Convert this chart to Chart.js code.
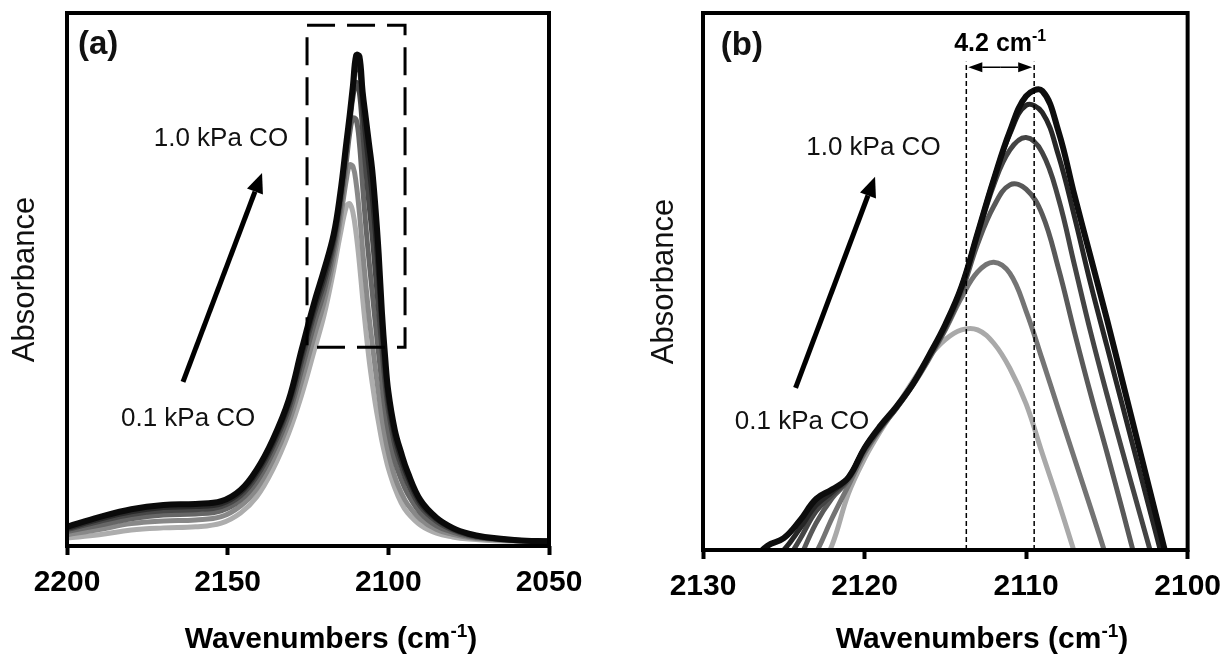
<!DOCTYPE html>
<html>
<head>
<meta charset="utf-8">
<title>CO band</title>
<script src="https://cdn.jsdelivr.net/npm/chart.js@4.4.1/dist/chart.umd.min.js"></script>
<style>
  html, body { margin: 0; padding: 0; background: #fff; }
  #wrap { position: relative; width: 1231px; height: 656px; overflow: hidden; }
  canvas { position: absolute; top: 0; }
  #wide { left: 0; }
  #zoom { left: 616px; }
</style>
</head>
<body>
<div id="wrap">
  <canvas id="wide" width="615" height="656"></canvas>
  <canvas id="zoom" width="615" height="656"></canvas>
</div>
<script>
const FONT = '"Liberation Sans", Arial, Helvetica, sans-serif';

// (a) whole band, spectra from 0.1 kPa (1) up to 1.0 kPa CO (6)
const wideWn = [2200, 2190, 2180, 2170, 2160, 2152, 2146, 2141, 2136, 2131,
  2127, 2123, 2120, 2117, 2115, 2113, 2112, 2111, 2110, 2109,
  2108, 2107, 2106, 2105, 2104, 2103, 2102, 2101, 2100, 2098,
  2096, 2094, 2090, 2085, 2080, 2075, 2070, 2060, 2050];
const wide1 = [0.015, 0.021, 0.030, 0.034, 0.036, 0.043, 0.062, 0.092, 0.143, 0.212,
  0.283, 0.368, 0.433, 0.518, 0.583, 0.638, 0.642, 0.625, 0.585, 0.530,
  0.465, 0.405, 0.350, 0.305, 0.265, 0.230, 0.197, 0.170, 0.146, 0.109,
  0.081, 0.062, 0.039, 0.024, 0.017, 0.013, 0.011, 0.009, 0.009];
const wide2 = [0.021, 0.031, 0.042, 0.047, 0.049, 0.055, 0.075, 0.107, 0.160, 0.231,
  0.309, 0.395, 0.457, 0.538, 0.610, 0.690, 0.715, 0.712, 0.680, 0.625,
  0.555, 0.490, 0.430, 0.380, 0.330, 0.285, 0.240, 0.205, 0.175, 0.130,
  0.100, 0.078, 0.050, 0.031, 0.022, 0.016, 0.013, 0.010, 0.009];
const wide3 = [0.027, 0.039, 0.051, 0.058, 0.060, 0.066, 0.086, 0.120, 0.174, 0.246,
  0.330, 0.418, 0.477, 0.555, 0.630, 0.725, 0.775, 0.803, 0.800, 0.755,
  0.675, 0.600, 0.535, 0.475, 0.415, 0.360, 0.305, 0.255, 0.215, 0.160,
  0.125, 0.098, 0.062, 0.038, 0.026, 0.018, 0.014, 0.010, 0.009];
const wide4 = [0.031, 0.046, 0.059, 0.066, 0.068, 0.074, 0.094, 0.130, 0.185, 0.258,
  0.347, 0.436, 0.493, 0.568, 0.645, 0.745, 0.795, 0.843, 0.870, 0.850,
  0.780, 0.705, 0.640, 0.580, 0.510, 0.440, 0.370, 0.305, 0.255, 0.190,
  0.150, 0.118, 0.074, 0.046, 0.030, 0.020, 0.015, 0.011, 0.009];
const wide5 = [0.033, 0.050, 0.064, 0.072, 0.074, 0.079, 0.100, 0.137, 0.192, 0.267,
  0.358, 0.447, 0.505, 0.577, 0.653, 0.755, 0.805, 0.857, 0.905, 0.895,
  0.825, 0.765, 0.710, 0.655, 0.585, 0.505, 0.410, 0.330, 0.272, 0.205,
  0.163, 0.130, 0.080, 0.050, 0.032, 0.022, 0.016, 0.011, 0.009];
const wide6 = [0.036, 0.054, 0.069, 0.077, 0.079, 0.084, 0.105, 0.143, 0.199, 0.274,
  0.368, 0.458, 0.518, 0.585, 0.660, 0.760, 0.810, 0.865, 0.921, 0.919,
  0.852, 0.803, 0.754, 0.705, 0.634, 0.548, 0.439, 0.355, 0.290, 0.218,
  0.175, 0.139, 0.086, 0.053, 0.034, 0.023, 0.017, 0.011, 0.009];
const wideTicks = [2200, 2150, 2100, 2050];

// (b) close-up of the main peak, same six spectra
const zoomWn = [2127, 2126, 2125, 2124, 2123, 2122, 2121, 2120, 2119, 2118,
  2117, 2116, 2115, 2114, 2113, 2112, 2111, 2110, 2109, 2108,
  2107, 2106, 2105, 2104, 2103, 2102, 2101, 2100];
const zoom1 = [null, null, null, null, -0.05, 0.010, 0.105, 0.170, 0.222, 0.268,
  0.315, 0.360, 0.392, 0.410, 0.410, 0.385, 0.338, 0.272, 0.180, 0.090,
  -0.005, null, null, null, null, null, null, null];
const zoom2 = [null, null, null, -0.05, -0.005, 0.060, 0.120, 0.180, 0.226, 0.265,
  0.307, 0.356, 0.410, 0.470, 0.518, 0.536, 0.515, 0.445, 0.355, 0.262,
  0.170, 0.078, -0.016, null, null, null, null, null];
const zoom3 = [null, null, null, -0.015, 0.050, 0.097, 0.130, 0.185, 0.227, 0.265,
  0.308, 0.358, 0.412, 0.480, 0.570, 0.640, 0.680, 0.672, 0.625, 0.525,
  0.405, 0.290, 0.182, 0.070, -0.045, null, null, null];
const zoom4 = [null, null, -0.03, 0.020, 0.072, 0.103, 0.133, 0.188, 0.229, 0.266,
  0.309, 0.360, 0.415, 0.485, 0.585, 0.680, 0.745, 0.768, 0.740, 0.655,
  0.530, 0.405, 0.290, 0.180, 0.072, -0.035, null, null];
const zoom5 = [null, -0.025, 0.000, 0.040, 0.083, 0.108, 0.135, 0.190, 0.230, 0.267,
  0.310, 0.362, 0.418, 0.490, 0.590, 0.690, 0.775, 0.828, 0.815, 0.735,
  0.620, 0.495, 0.380, 0.265, 0.150, 0.035, -0.08, null];
const zoom6 = [-0.02, 0.008, 0.022, 0.055, 0.095, 0.113, 0.135, 0.190, 0.232, 0.268,
  0.310, 0.363, 0.420, 0.490, 0.590, 0.690, 0.780, 0.845, 0.855, 0.780,
  0.660, 0.545, 0.430, 0.310, 0.190, 0.070, -0.05, null];
const zoomTicks = [2130, 2120, 2110, 2100];

// peak positions at 0.1 and 1.0 kPa marked in (b)
const shiftFrom = 2113.7;
const shiftSize = 4.2;
const shiftTo = shiftFrom - shiftSize;

// darkest (highest pressure) first so it ends up drawn on top
const wideShades = ['#0a0a0a', '#2a2a2a', '#474747', '#666666', '#888888', '#adadad'];
const zoomShades = ['#0d0d0d', '#262626', '#444444', '#595959', '#747474', '#a9a9a9'];

function pointsOf(xs, ys) {
  return xs.map((x, i) => ({ x, y: ys[i] }));
}

function drawArrow(ctx, x1, y1, x2, y2, width, headLen, headW) {
  const a = Math.atan2(y2 - y1, x2 - x1);
  const bx = x2 - headLen * Math.cos(a);
  const by = y2 - headLen * Math.sin(a);
  ctx.lineWidth = width;
  ctx.beginPath();
  ctx.moveTo(x1, y1);
  ctx.lineTo(bx, by);
  ctx.stroke();
  ctx.beginPath();
  ctx.moveTo(x2, y2);
  ctx.lineTo(bx + headW / 2 * Math.sin(a), by - headW / 2 * Math.cos(a));
  ctx.lineTo(bx - headW / 2 * Math.sin(a), by + headW / 2 * Math.cos(a));
  ctx.closePath();
  ctx.fill();
}

// text with an optional raised part, e.g. cm-1
function drawSupText(ctx, x, baseY, size, weight, main, sup, tail, align) {
  const big = `${weight} ${size}px ${FONT}`;
  const small = `${weight} ${Math.round(size * 0.62)}px ${FONT}`;
  ctx.font = big;
  const w1 = ctx.measureText(main).width;
  const w3 = tail ? ctx.measureText(tail).width : 0;
  ctx.font = small;
  const w2 = sup ? ctx.measureText(sup).width : 0;
  const x0 = align === 'left' ? x : x - (w1 + w2 + w3) / 2;
  ctx.textAlign = 'left';
  ctx.textBaseline = 'alphabetic';
  ctx.font = big;
  ctx.fillText(main, x0, baseY);
  if (sup) {
    ctx.font = small;
    ctx.fillText(sup, x0 + w1, baseY - size * 0.38);
  }
  if (tail) {
    ctx.font = big;
    ctx.fillText(tail, x0 + w1 + w2, baseY);
  }
}

// frame, axis title and the drawn notes of one panel
function notesPlugin(cfg) {
  return {
    id: 'notes',
    afterDraw(chart) {
      const { ctx, chartArea: area } = chart;
      const px = v => chart.scales.x.getPixelForValue(v);
      const py = v => chart.scales.y.getPixelForValue(v);
      ctx.save();
      ctx.strokeStyle = '#000';
      ctx.fillStyle = '#000';

      if (cfg.box) {
        const b = cfg.box;
        ctx.lineWidth = 3;
        ctx.setLineDash([28, 12]);
        ctx.strokeRect(px(b.from), py(b.top), px(b.to) - px(b.from), py(b.bottom) - py(b.top));
        ctx.setLineDash([]);
      }

      if (cfg.shift) {
        const s = cfg.shift;
        ctx.lineWidth = 1.5;
        ctx.setLineDash([5, 3]);
        [s.from, s.to].forEach(v => {
          ctx.beginPath();
          ctx.moveTo(px(v), area.bottom);
          ctx.lineTo(px(v), py(s.top));
          ctx.stroke();
        });
        ctx.setLineDash([]);
        const ya = py(s.arrowAt);
        const xa = px(s.from) + 2, xb = px(s.to) - 2;
        drawArrow(ctx, (xa + xb) / 2, ya, xa, ya, 1.5, 14, 10);
        drawArrow(ctx, (xa + xb) / 2, ya, xb, ya, 1.5, 14, 10);
        drawSupText(ctx, px(s.labelX), py(s.labelY) + 9, 25, 'bold', s.text, '-1', '', 'center');
      }

      cfg.arrows.forEach(a => {
        drawArrow(ctx, px(a.from[0]), py(a.from[1]), px(a.to[0]), py(a.to[1]), 5, 20, 17);
      });

      cfg.labels.forEach(l => {
        ctx.fillStyle = '#111';
        ctx.font = `${l.weight} ${l.size}px ${FONT}`;
        ctx.textAlign = l.align;
        ctx.textBaseline = 'middle';
        ctx.fillText(l.text, px(l.x), py(l.y));
      });

      ctx.fillStyle = '#000';
      drawSupText(ctx, cfg.titleX, 648, 30, 'bold', 'Wavenumbers (cm', '-1', ')', 'center');

      ctx.lineWidth = 4;
      ctx.strokeRect(area.left, area.top, area.right - area.left, area.bottom - area.top);
      ctx.restore();
    }
  };
}

function spectrumChart(canvasId, xs, series, shades, range, ticks, box, notes) {
  return new Chart(document.getElementById(canvasId), {
    type: 'line',
    data: {
      datasets: series.map((ys, i) => ({
        data: pointsOf(xs, ys),
        borderColor: shades[i],
        borderWidth: i === 0 ? 6 : 5,
        pointRadius: 0,
        tension: 0.4,
        fill: false,
        clip: 0
      }))
    },
    options: {
      responsive: false,
      animation: false,
      events: [],
      layout: { padding: { top: 13, left: 0, right: box.right, bottom: 0 } },
      plugins: { legend: { display: false }, tooltip: { enabled: false } },
      scales: {
        x: {
          type: 'linear',
          reverse: true,
          min: range[0],
          max: range[1],
          afterBuildTicks: s => { s.ticks = ticks.map(v => ({ value: v })); },
          ticks: {
            autoSkip: false,
            maxRotation: 0,
            padding: 10,
            color: '#000',
            font: { family: FONT, size: 30, weight: 'bold' },
            callback: v => String(v)
          },
          grid: { drawOnChartArea: false, drawTicks: true, tickLength: 9, tickWidth: 4, tickColor: '#000' },
          border: { display: false },
          afterFit: s => { s.height = box.xHeight; }
        },
        y: {
          min: 0,
          max: 1,
          ticks: { display: false },
          grid: { display: false },
          border: { display: false },
          title: {
            display: true,
            text: 'Absorbance',
            color: '#111',
            font: { family: FONT, size: 31, weight: 'normal' },
            padding: { top: box.titlePad, bottom: 0 }
          },
          afterFit: s => { s.width = box.yWidth; }
        }
      }
    },
    plugins: [notesPlugin(notes)]
  });
}

spectrumChart('wide', wideWn, [wide6, wide5, wide4, wide3, wide2, wide1], wideShades,
  [2050, 2200], wideTicks,
  { right: 66, xHeight: 110, yWidth: 67, titlePad: 7 },
  {
    titleX: 331,
    box: { from: 2125.3, to: 2094.8, top: 0.977, bottom: 0.373 },
    arrows: [{ from: [2163.9, 0.308], to: [2139.3, 0.70] }],
    labels: [
      { text: '(a)', x: 2196.6, y: 0.94, size: 33, weight: 'bold', align: 'left' },
      { text: '1.0 kPa CO', x: 2152.1, y: 0.764, size: 26, weight: 'normal', align: 'center' },
      { text: '0.1 kPa CO', x: 2162.3, y: 0.238, size: 26, weight: 'normal', align: 'center' }
    ]
  });

spectrumChart('zoom', zoomWn, [zoom6, zoom5, zoom4, zoom3, zoom2, zoom1], zoomShades,
  [2100, 2130], zoomTicks,
  { right: 39, xHeight: 106, yWidth: 87, titlePad: 30 },
  {
    titleX: 366,
    shift: { from: shiftFrom, to: shiftTo, top: 0.909, arrowAt: 0.899,
             labelX: 2111.6, labelY: 0.946, text: shiftSize.toFixed(1) + ' cm' },
    arrows: [{ from: [2124.27, 0.302], to: [2119.35, 0.695] }],
    labels: [
      { text: '(b)', x: 2128.9, y: 0.939, size: 33, weight: 'bold', align: 'left' },
      { text: '1.0 kPa CO', x: 2119.45, y: 0.749, size: 26, weight: 'normal', align: 'center' },
      { text: '0.1 kPa CO', x: 2123.87, y: 0.238, size: 26, weight: 'normal', align: 'center' }
    ]
  });
</script>
</body>
</html>
